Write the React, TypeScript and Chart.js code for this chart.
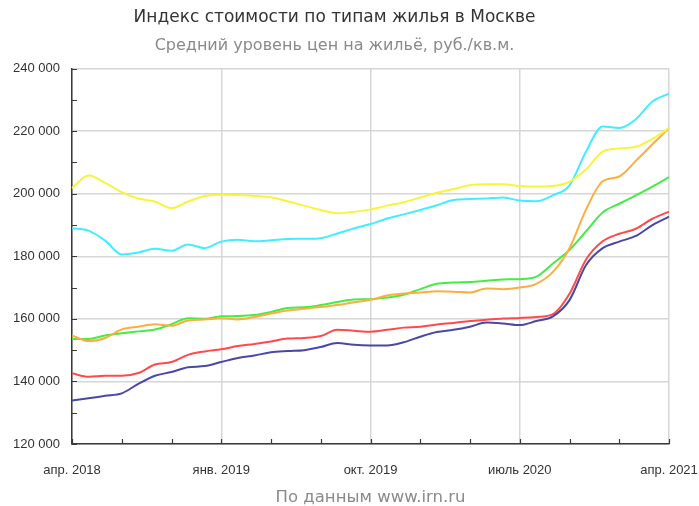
import React, { useEffect, useRef } from 'react';
import { Chart, registerables } from 'chart.js';
Chart.register(...registerables);

const MONTH_NAMES = ['янв.', 'февр.', 'март', 'апр.', 'май', 'июнь', 'июль', 'авг.', 'сент.', 'окт.', 'нояб.', 'дек.'];
const START_YEAR = 2018;
const START_MONTH = 3; // April
const MONTH_COUNT = 37;
const categories: string[] = Array.from({ length: MONTH_COUNT }, (_, i) => {
  const k = START_MONTH + i;
  return `${MONTH_NAMES[k % 12]} ${START_YEAR + Math.floor(k / 12)}`;
});

const yellowSeries = [201800, 205800, 203500, 200500, 198500, 197500, 195400, 197500, 199300, 199700, 199600, 199300, 198900, 197600, 196200, 194800, 193800, 194200, 195000, 196200, 197300, 198800, 200300, 201500, 202700, 203000, 203000, 202500, 202300, 202500, 203800, 207800, 213500, 214500, 215000, 217500, 221000];
const cyanSeries = [189000, 188200, 185000, 180600, 181200, 182400, 181800, 183800, 182600, 184700, 185300, 184800, 185100, 185500, 185600, 185800, 187300, 188900, 190300, 192100, 193400, 194800, 196300, 198000, 198300, 198500, 198800, 197800, 197600, 199500, 202700, 213500, 221500, 221000, 223800, 229500, 232000];
const orangeSeries = [154700, 152900, 153900, 156600, 157500, 158300, 157800, 159500, 159800, 160200, 159800, 160600, 161700, 162700, 163200, 163800, 164400, 165300, 166100, 167500, 168100, 168400, 168800, 168700, 168400, 169700, 169500, 170000, 171200, 175000, 182600, 195000, 204000, 205500, 210500, 215800, 221000];
const greenSeries = [153600, 153600, 154700, 155400, 156000, 156600, 158300, 160200, 160000, 160800, 160900, 161200, 162200, 163500, 163700, 164400, 165400, 166200, 166300, 166800, 167700, 169500, 171200, 171600, 171800, 172200, 172600, 172700, 173500, 177700, 182000, 188000, 194000, 196800, 199500, 202300, 205300];
const redSeries = [142600, 141500, 141800, 141800, 142700, 145400, 146200, 148500, 149600, 150300, 151300, 152000, 152800, 153700, 153900, 154500, 156500, 156200, 155900, 156500, 157200, 157500, 158200, 158700, 159300, 159700, 160100, 160300, 160600, 161500, 168000, 179000, 184800, 187200, 188800, 192000, 194300];
const navySeries = [133900, 134600, 135400, 136200, 139200, 141800, 143000, 144500, 144900, 146200, 147500, 148300, 149300, 149700, 150000, 151000, 152300, 151700, 151500, 151500, 152500, 154300, 155800, 156500, 157500, 158800, 158500, 158000, 159300, 160800, 166000, 177200, 182600, 184700, 186500, 190000, 192700];

const TITLE = 'Индекс стоимости по типам жилья в Москве';
const SUBTITLE = 'Средний уровень цен на жильё, руб./кв.м.';
const SOURCE = 'По данным www.irn.ru';

const Y_MIN = 120000;
const Y_MAX = 240000;
const Y_MINOR_STEP = 10000;
const Y_MAJOR_STEP = 20000;
const X_LABEL_EVERY = 9;
const X_TICK_EVERY = 3;

const formatThousands = (v: number) => {
  const s = Math.round(v).toString();
  return s.replace(/\B(?=(\d{3})+(?!\d))/g, ' ');
};

const inwardTicks = {
  id: 'inwardTicks',
  afterDraw(chart: any) {
    const { ctx, chartArea, scales } = chart;
    const len = 5;
    ctx.save();
    ctx.strokeStyle = '#3a3a3a';
    ctx.lineWidth = 1.2;
    ctx.beginPath();
    const ys = scales.y;
    for (let v = Y_MIN; v <= Y_MAX; v += Y_MINOR_STEP) {
      const py = Math.round(ys.getPixelForValue(v)) + 0.5;
      ctx.moveTo(chartArea.left, py);
      ctx.lineTo(chartArea.left + len, py);
    }
    const xs = scales.x;
    for (let i = 0; i < categories.length; i += X_TICK_EVERY) {
      const px = Math.round(xs.getPixelForValue(i)) + 0.5;
      ctx.moveTo(px, chartArea.bottom);
      ctx.lineTo(px, chartArea.bottom - len);
    }
    ctx.stroke();
    ctx.restore();
  },
};

const seriesDefs = [
  { data: yellowSeries, color: '#f8f43a' },
  { data: cyanSeries, color: '#40eeff' },
  { data: orangeSeries, color: '#ffad40' },
  { data: greenSeries, color: '#44ec44' },
  { data: navySeries, color: '#4848a8' },
  { data: redSeries, color: '#ff4a4a' },
];

export default function App() {
  const canvasRef = useRef<HTMLCanvasElement | null>(null);

  useEffect(() => {
    if (!canvasRef.current) return;
    const chart = new Chart(canvasRef.current, {
      type: 'line',
      data: {
        labels: categories,
        datasets: seriesDefs.map((s) => ({
          data: s.data,
          borderColor: s.color,
          backgroundColor: s.color,
          borderWidth: 2,
          pointRadius: 0,
          pointHoverRadius: 0,
          cubicInterpolationMode: 'monotone' as const,
          fill: false,
        })),
      },
      options: {
        animation: false,
        responsive: true,
        maintainAspectRatio: false,
        layout: { padding: { left: 0, right: 30, top: 0, bottom: 0 } },
        plugins: {
          legend: { display: false },
          tooltip: { enabled: false },
          title: {
            display: true,
            text: TITLE,
            color: '#333333',
            font: { family: 'DejaVu Sans', size: 17, weight: 'normal', lineHeight: 1.2 },
            padding: { top: 7, bottom: 2 },
          },
          subtitle: {
            display: true,
            text: SUBTITLE,
            color: '#8a8a8a',
            font: { family: 'DejaVu Sans', size: 16, weight: 'normal', lineHeight: 1.2 },
            padding: { top: 7, bottom: 13 },
          },
        },
        scales: {
          x: {
            type: 'category',
            offset: false,
            afterFit: (scale: any) => {
              scale.height = 62;
              scale.paddingLeft = 0;
              scale.paddingRight = 0;
            },
            grid: {
              drawTicks: false,
              color: (ctx: any) => (ctx.index % X_LABEL_EVERY === 0 ? '#d6d6d6' : 'rgba(0,0,0,0)'),
              lineWidth: 1.5,
            },
            border: { display: true, color: '#3a3a3a', width: 1.5 },
            ticks: {
              autoSkip: false,
              maxRotation: 0,
              minRotation: 0,
              padding: 19,
              color: '#333333',
              font: { family: 'Liberation Sans', size: 13 },
              callback: (_v: any, i: number) => (i % X_LABEL_EVERY === 0 ? categories[i] : ''),
            },
            title: {
              display: true,
              text: SOURCE,
              color: '#8a8a8a',
              font: { family: 'DejaVu Sans', size: 16.5, lineHeight: 1.0 },
              padding: { top: 0, bottom: 0 },
            },
          },
          y: {
            min: Y_MIN,
            max: Y_MAX,
            afterFit: (scale: any) => {
              scale.width = 72;
            },
            grid: {
              drawTicks: false,
              color: (ctx: any) => (ctx.tick && ctx.tick.value % Y_MAJOR_STEP === 0 ? '#d6d6d6' : 'rgba(0,0,0,0)'),
              lineWidth: 1.5,
            },
            border: { display: true, color: '#3a3a3a', width: 1.5 },
            ticks: {
              stepSize: Y_MINOR_STEP,
              padding: 12,
              color: '#333333',
              font: { family: 'Liberation Sans', size: 13 },
              callback: (v: any) => (Number(v) % Y_MAJOR_STEP === 0 ? formatThousands(Number(v)) : ''),
            },
          },
        },
      },
      plugins: [inwardTicks],
    });
    return () => chart.destroy();
  }, []);

  return (
    <div style={{ position: 'fixed', left: 0, top: 0, width: 699, height: 506, background: '#ffffff' }}>
      <canvas ref={canvasRef} />
    </div>
  );
}
